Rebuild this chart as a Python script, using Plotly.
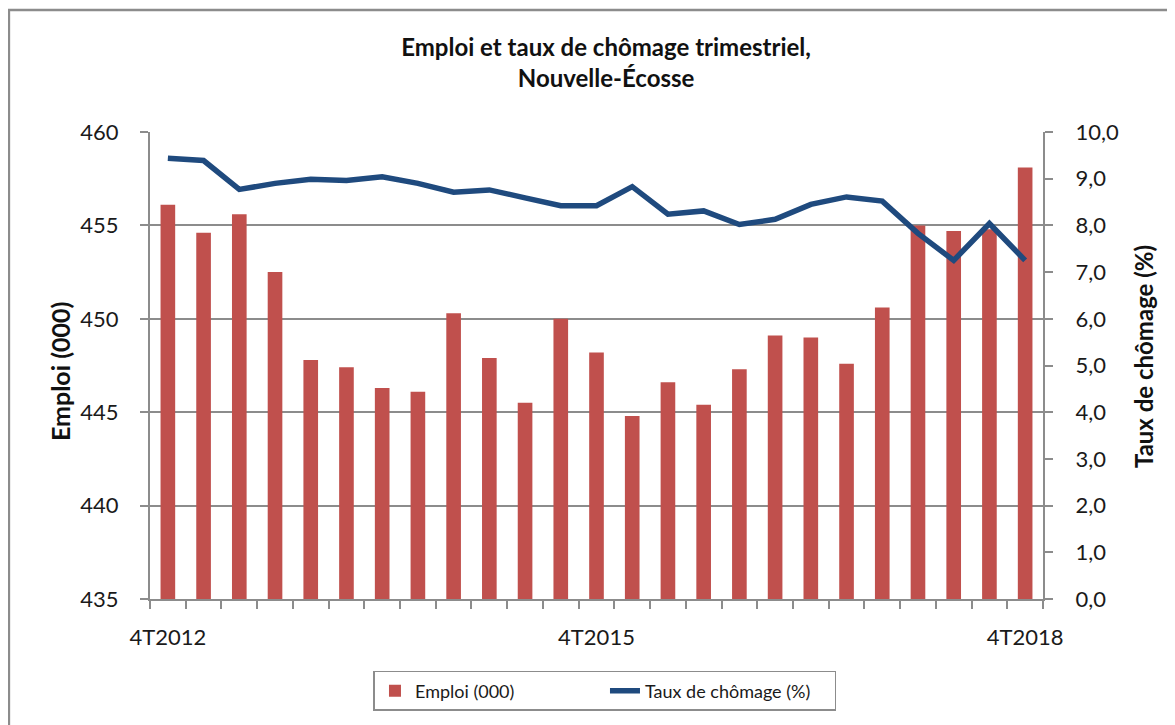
import plotly.graph_objects as go

quarters = ["4T2012",
            "1T2013", "2T2013", "3T2013", "4T2013",
            "1T2014", "2T2014", "3T2014", "4T2014",
            "1T2015", "2T2015", "3T2015", "4T2015",
            "1T2016", "2T2016", "3T2016", "4T2016",
            "1T2017", "2T2017", "3T2017", "4T2017",
            "1T2018", "2T2018", "3T2018", "4T2018"]
emploi = [456.1, 454.6, 455.6, 452.5, 447.8, 447.4, 446.3, 446.1, 450.3, 447.9,
          445.5, 450.0, 448.2, 444.8, 446.6, 445.4, 447.3, 449.1, 449.0, 447.6,
          450.6, 455.0, 454.7, 454.8, 458.1]
chomage = [9.44, 9.39, 8.77, 8.90, 8.99, 8.96, 9.04, 8.90, 8.71, 8.76,
           8.59, 8.42, 8.42, 8.83, 8.24, 8.31, 8.02, 8.13, 8.45, 8.61,
           8.52, 7.83, 7.25, 8.04, 7.25]
shown_labels = ["4T2012", "4T2015", "4T2018"]
left_title = "Emploi (000)"
right_title = "Taux de chômage (%)"

FONT = "Lato, 'Open Sans', sans-serif"
GRID = "#8c8c8c"

fig = go.Figure()
fig.add_trace(go.Bar(x=quarters, y=emploi, name="Emploi (000)",
                     marker=dict(color="#C0504D", line=dict(width=0)),
                     width=0.41, yaxis="y"))
fig.add_trace(go.Scatter(x=quarters, y=chomage, name="Taux de chômage (%)",
                         mode="lines", line=dict(color="#1F4A7E", width=5.5),
                         yaxis="y2"))

fig.update_layout(
    width=1175, height=725,
    margin=dict(l=142, r=140, t=124, b=134),
    paper_bgcolor="white", plot_bgcolor="white",
    separators=", ",
    font=dict(family=FONT, color="#1a1a1a", size=22),
    title=dict(text="<b>Emploi et taux de chômage trimestriel,<br>Nouvelle-Écosse</b>",
               x=0.509, xanchor="center", y=0.934, yanchor="top",
               font=dict(family=FONT, size=24, color="#111111")),
    xaxis=dict(type="category", categoryorder="array", categoryarray=quarters,
               tickmode="array", tickvals=quarters,
               ticktext=[q if q in shown_labels else "" for q in quarters],
               tickson="boundaries", ticks="outside", ticklen=8, tickwidth=1.5,
               tickcolor=GRID, showline=True, linecolor=GRID, linewidth=2,
               showgrid=False, ticklabelstandoff=18, tickangle=0,
               tickfont=dict(size=22), range=[-0.5, 24.5], automargin=False),
    yaxis=dict(range=[435, 460], dtick=5, tick0=435, showgrid=True,
               gridcolor=GRID, gridwidth=2, showline=True, linecolor=GRID,
               linewidth=2, ticks="outside", ticklen=8, tickwidth=1.5,
               tickcolor=GRID, ticklabelstandoff=17, zeroline=False,
               tickfont=dict(size=22), automargin=False),
    yaxis2=dict(range=[0, 10], dtick=1, tick0=0, tickformat=".1f",
                overlaying="y", side="right", showgrid=False,
                showline=True, linecolor=GRID, linewidth=2, ticks="outside",
                ticklen=8, tickwidth=1.5, tickcolor=GRID, ticklabelstandoff=18,
                zeroline=False, tickfont=dict(size=22), automargin=False),
    legend=dict(orientation="h", x=0.5095, xanchor="center", y=-0.197,
                yanchor="middle", bordercolor=GRID, borderwidth=1.5,
                font=dict(size=18), entrywidth=185, bgcolor="white",
                traceorder="normal"),
    showlegend=True,
)

fig.add_annotation(text="<b>" + left_title + "</b>", xref="paper", yref="paper",
                   x=-0.1008, y=0.488, xanchor="center", yanchor="middle",
                   textangle=-90, showarrow=False,
                   font=dict(family=FONT, size=25, color="#111111"))
fig.add_annotation(text="<b>" + right_title + "</b>", xref="paper", yref="paper",
                   x=1.112, y=0.518, xanchor="center", yanchor="middle",
                   textangle=-90, showarrow=False,
                   font=dict(family=FONT, size=24, color="#111111"))

fig.add_shape(type="rect", xref="paper", yref="paper",
              x0=-0.158, x1=1.3, y0=-0.6, y1=1.2612,
              line=dict(color="#8c8c8c", width=2.5), layer="below")

fig.write_html("out.html")
